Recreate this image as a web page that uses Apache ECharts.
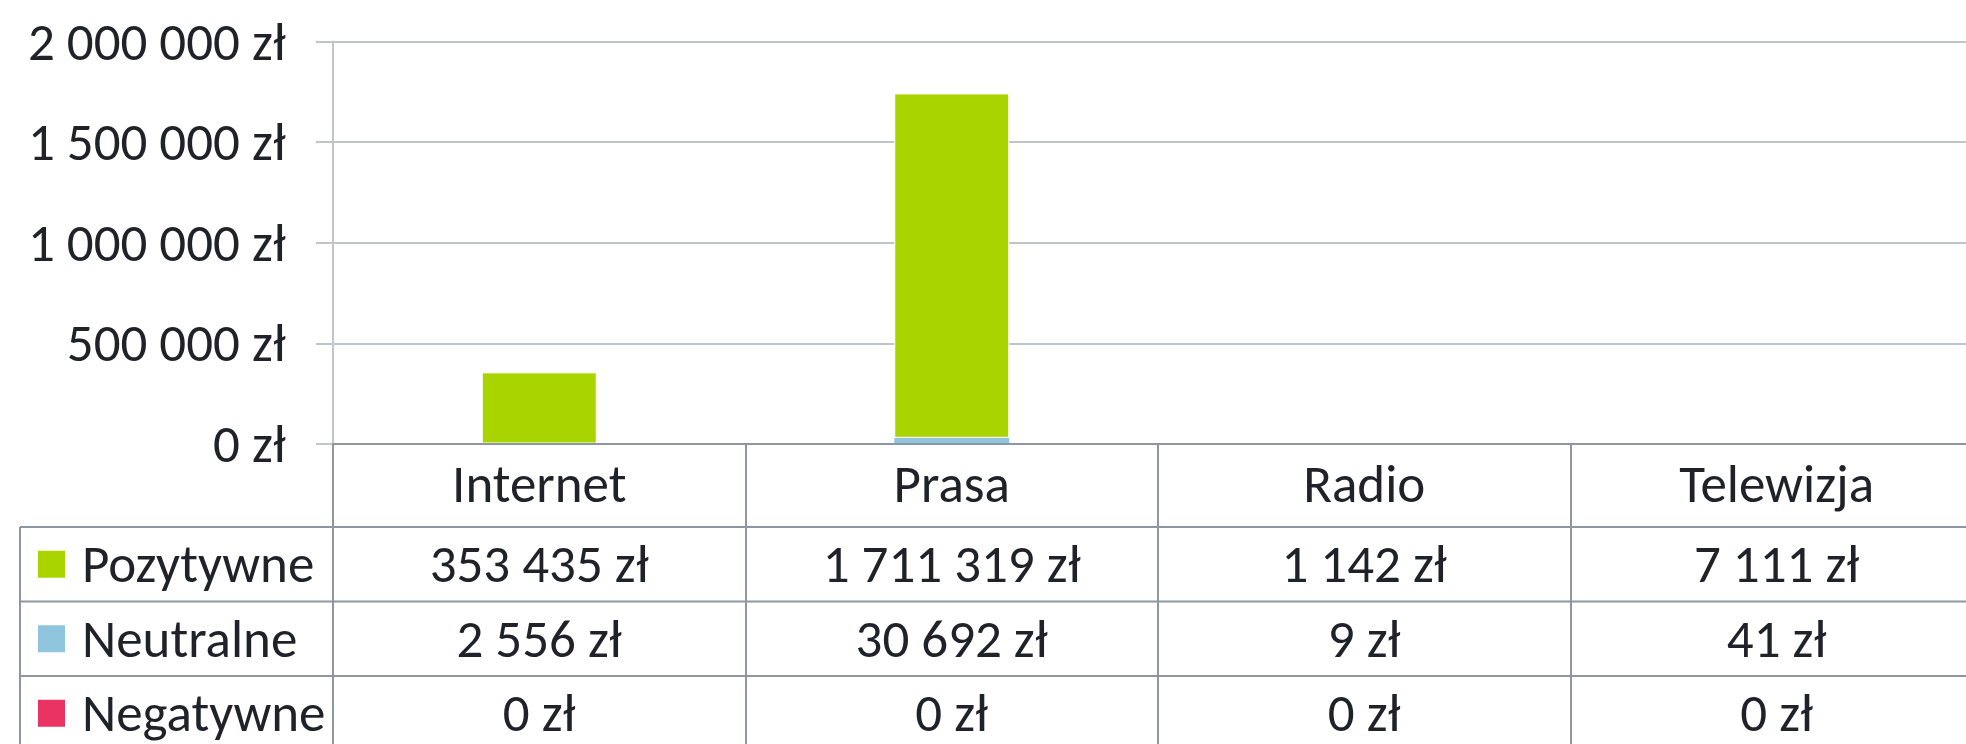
<!DOCTYPE html>
<html>
<head>
<meta charset="utf-8">
<script src="https://cdn.jsdelivr.net/npm/echarts@6/dist/echarts.min.js"></script>
<style>
html, body { margin: 0; padding: 0; overflow: hidden; background: #fff; }
#chart { width: 1984px; height: 744px; }
</style>
</head>
<body>
<div id="chart"></div>
<script>
// dane
const categories = ['Internet', 'Prasa', 'Radio', 'Telewizja'];
const pozytywne = [353435, 1711319, 1142, 7111];
const neutralne = [2556, 30692, 9, 41];
const negatywne = [0, 0, 0, 0];
const seriesNames = ['Pozytywne', 'Neutralne', 'Negatywne'];
const seriesColors = ['#a9d400', '#90c5de', '#e83363'];

const FONT = 'Carlito, Calibri, "Liberation Sans Narrow", "DejaVu Sans Condensed", sans-serif';
const FS = 53;
const TXT = '#1f2329';
const TABLE_LINE = '#8d97a2';
const GRID_LINE = '#c0c5ca';

const fmt = v => String(v).replace(/\B(?=(\d{3})+(?!\d))/g, ' ') + ' zł';

let myChart = echarts.init(document.getElementById('chart'), null, { renderer: 'svg' });

let option = {
  animation: false,
  backgroundColor: '#fff',
  textStyle: { fontFamily: FONT },
  grid: { left: 333, right: 1, top: 41.5, bottom: 300 },
  xAxis: {
    type: 'category',
    data: categories,
    z: 5,
    axisLine: { lineStyle: { color: TABLE_LINE, width: 2 } },
    axisTick: { show: true, interval: 0, length: 300, lineStyle: { color: TABLE_LINE, width: 2 } },
    axisLabel: { margin: 40, verticalAlign: 'middle', fontSize: FS, lineHeight: FS, color: TXT, fontFamily: FONT }
  },
  yAxis: {
    type: 'value',
    min: 0,
    max: 2000000,
    interval: 500000,
    axisLine: { show: true, lineStyle: { color: GRID_LINE, width: 2 } },
    axisTick: { show: true, length: 17, lineStyle: { color: GRID_LINE, width: 2 } },
    splitLine: { lineStyle: { color: GRID_LINE, width: 2 } },
    axisLabel: { margin: 47, fontSize: FS, lineHeight: FS, color: TXT, fontFamily: FONT, formatter: v => fmt(v) }
  },
  series: [
    { name: 'Negatywne', type: 'bar', stack: 'a', data: negatywne, barWidth: 115,
      itemStyle: { color: seriesColors[2] } },
    { name: 'Neutralne', type: 'bar', stack: 'a', data: neutralne, barWidth: 115,
      itemStyle: { color: seriesColors[1] } },
    { name: 'Pozytywne', type: 'bar', stack: 'a', data: pozytywne, barWidth: 115,
      itemStyle: { color: seriesColors[0], borderColor: '#fff', borderWidth: 1 } }
  ]
};

myChart.setOption(option);

// tabela danych pod wykresem
const tableLeft = 20;
const rowTop = 527;
const rowH = 74.5;
const rows = [pozytywne, neutralne, negatywne];
let graphic = [];

const txtStyle = (text, x, y, align) => ({
  text: text, x: x, y: y, font: FS + 'px ' + FONT, lineHeight: FS, fill: TXT,
  align: align, verticalAlign: 'middle', textAlign: align, textVerticalAlign: 'middle'
});

for (let r = 0; r < 3; r++) {
  let y = rowTop + r * rowH;
  graphic.push({ type: 'line', shape: { x1: tableLeft, y1: y, x2: 1984, y2: y },
    style: { stroke: TABLE_LINE, lineWidth: 2 } });
  let cy = y + rowH / 2;
  graphic.push({ type: 'rect', shape: { x: 38, y: cy - 13.5, width: 27, height: 27 },
    style: { fill: seriesColors[r] } });
  graphic.push({ type: 'text', style: txtStyle(seriesNames[r], 82, cy, 'left') });
  rows[r].forEach((v, i) => {
    let cx = myChart.convertToPixel({ xAxisIndex: 0 }, categories[i]);
    graphic.push({ type: 'text', style: txtStyle(fmt(v), cx, cy, 'center') });
  });
}
graphic.push({ type: 'line', shape: { x1: tableLeft, y1: rowTop, x2: tableLeft, y2: 744 },
  style: { stroke: TABLE_LINE, lineWidth: 2 } });

myChart.setOption({ graphic: graphic });
</script>
</body>
</html>
